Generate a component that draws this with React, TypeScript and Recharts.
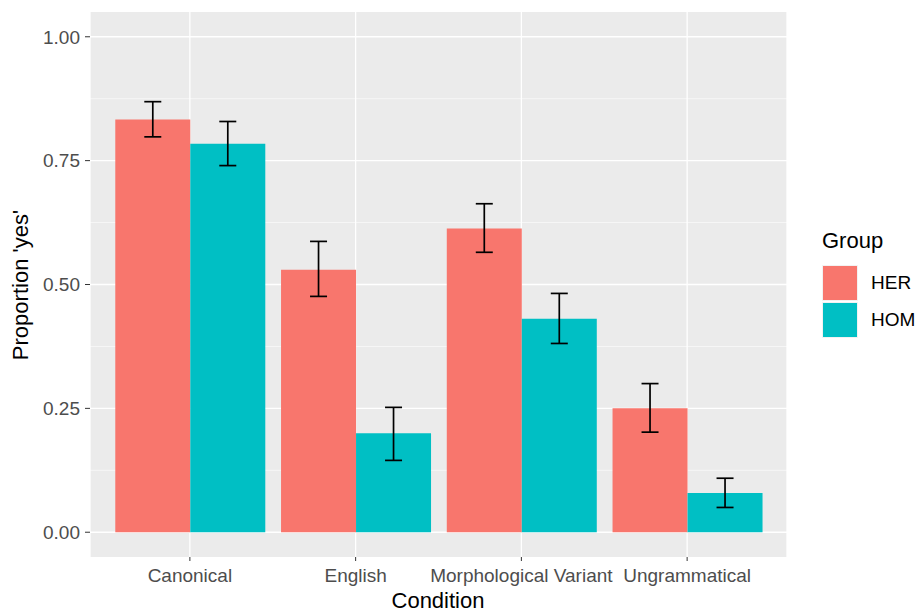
import React from 'react'
import {
  BarChart, Bar, XAxis, YAxis, CartesianGrid, ErrorBar,
} from 'recharts'

const conditions = ['Canonical', 'English', 'Morphological Variant', 'Ungrammatical']
const herMean = [0.833, 0.530, 0.613, 0.250]
const herLow = [0.798, 0.476, 0.565, 0.202]
const herHigh = [0.869, 0.587, 0.663, 0.300]
const homMean = [0.784, 0.200, 0.431, 0.079]
const homLow = [0.740, 0.145, 0.381, 0.050]
const homHigh = [0.829, 0.252, 0.482, 0.109]
const yTicks = [0, 0.25, 0.5, 0.75, 1]
const yMinor = [0.125, 0.375, 0.625, 0.875]

const HER = '#F8766D'
const HOM = '#00BFC4'
const FONT = '"Liberation Sans", Arial, sans-serif'

const data = conditions.map((c, i) => ({
  condition: c,
  HER: herMean[i],
  HOM: homMean[i],
  herErr: [herMean[i] - herLow[i], herHigh[i] - herMean[i]],
  homErr: [homMean[i] - homLow[i], homHigh[i] - homMean[i]],
}))

const tickStyle = { fill: '#4D4D4D', fontSize: 19, fontFamily: FONT }

export default function App() {
  return (
    <div style={{ position: 'absolute', left: 0, top: 0, width: 918, height: 612, background: '#fff', fontFamily: FONT }}>
      <BarChart width={918} height={612} data={data} margin={{ top: 12, right: 131, bottom: 0, left: 0 }}
        barCategoryGap="5%" barGap={0}>
        <CartesianGrid fill="#EBEBEB" stroke="#fff" strokeWidth={0.6} vertical={false} horizontalValues={yMinor} />
        <CartesianGrid fill="none" stroke="#fff" strokeWidth={1.3} horizontalValues={yTicks} />
        <XAxis dataKey="condition" height={55} padding={{ left: 17, right: 17 }}
          axisLine={false} tickSize={4} tickMargin={8} tickLine={{ stroke: '#333' }} tick={tickStyle} interval={0} />
        <YAxis type="number" domain={[-0.05, 1.05]} ticks={yTicks} width={90} allowDataOverflow
          tickFormatter={(v: number) => v.toFixed(2)}
          axisLine={false} tickSize={5} tickMargin={5} tickLine={{ stroke: '#333' }} tick={tickStyle} />
        <Bar dataKey="HER" fill={HER} isAnimationActive={false}>
          <ErrorBar dataKey="herErr" width={8.5} stroke="#000" strokeWidth={1.7} direction="y" />
        </Bar>
        <Bar dataKey="HOM" fill={HOM} isAnimationActive={false}>
          <ErrorBar dataKey="homErr" width={8.5} stroke="#000" strokeWidth={1.7} direction="y" />
        </Bar>
      </BarChart>

      <div style={{ position: 'absolute', left: 338, width: 200, top: 589, textAlign: 'center', fontSize: 22, color: '#000', lineHeight: '24px' }}>
        Condition
      </div>
      <div style={{ position: 'absolute', left: 21, top: 285, width: 0, height: 0 }}>
        <div style={{ position: 'absolute', left: -100, top: -12, width: 200, textAlign: 'center', fontSize: 22, lineHeight: '24px', transform: 'rotate(-90deg)', whiteSpace: 'nowrap' }}>
          Proportion 'yes'
        </div>
      </div>

      <div style={{ position: 'absolute', left: 822, top: 229, fontSize: 22, lineHeight: '24px' }}>Group</div>
      {[['HER', HER], ['HOM', HOM]].map(([name, color], i) => (
        <div key={name} style={{ position: 'absolute', left: 822, top: 265 + i * 37, display: 'flex', alignItems: 'center' }}>
          <div style={{ width: 36, height: 36, background: '#F2F2F2', display: 'flex', alignItems: 'center', justifyContent: 'center' }}>
            <div style={{ width: 34, height: 34, background: color }} />
          </div>
          <span style={{ marginLeft: 13, fontSize: 19, lineHeight: '22px' }}>{name}</span>
        </div>
      ))}
    </div>
  )
}
